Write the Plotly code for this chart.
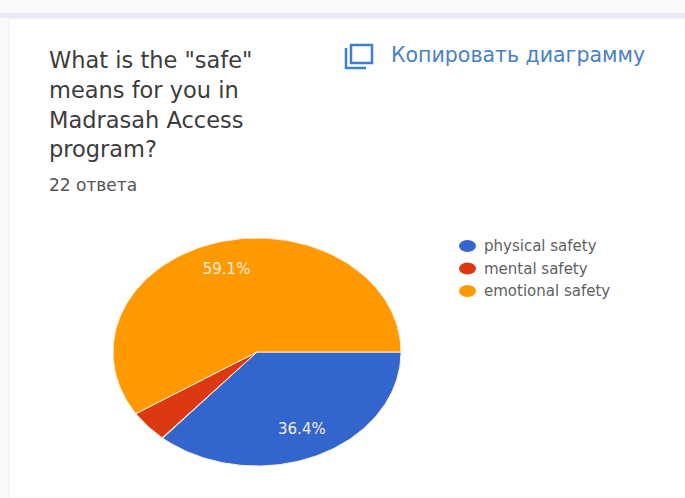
import numpy as np
import plotly.graph_objects as go

categories = ["physical safety", "mental safety", "emotional safety"]
answers = [8, 1, 13]
slice_colors = ["#3366cc", "#dc3912", "#ff9900"]
title_lines = ['What is the "safe"', "means for you in", "Madrasah Access", "program?"]
count_label = "22 ответа"
copy_label = "Копировать диаграмму"

W, H = 685, 498
fx = lambda px: px / W
fy = lambda px: 1 - px / H

# The source picture is stretched, so the pie is an ellipse: unit-circle wedges on
# axes whose ranges give 144 px per unit across and 114 px per unit down.
CX, CY, RX, RY = 257, 352, 144, 114
x_range = [-CX / RX, (W - CX) / RX]
y_range = [-(H - CY) / RY, CY / RY]

fig = go.Figure()
total = sum(answers)
start = 90.0
for name, value, color in zip(categories, answers, slice_colors):
    sweep = value / total * 360
    t = np.radians(np.linspace(start, start + sweep, 120))
    fig.add_trace(go.Scatter(
        x=np.r_[0, np.sin(t), 0], y=np.r_[0, np.cos(t), 0],
        mode="lines", fill="toself", fillcolor=color, name=name,
        line=dict(color="#fdeedd", width=1), hoverinfo="name", showlegend=False,
    ))
    if value / total > 0.1:
        mid = np.radians(start + sweep / 2)
        fig.add_trace(go.Scatter(
            x=[0.75 * np.sin(mid)], y=[0.75 * np.cos(mid)], mode="text",
            text=[f"{value / total * 100:.1f}%"], hoverinfo="skip", showlegend=False,
            textfont=dict(family="DejaVu Sans", size=15, color="#f6efe4"),
        ))
    start += sweep

shapes = [
    dict(type="rect", xref="paper", yref="paper", x0=0, x1=1, y0=fy(18), y1=fy(13),
         fillcolor="#e9e8f6", line_width=0, layer="below"),
    dict(type="rect", xref="paper", yref="paper", x0=fx(9), x1=1, y0=0, y1=fy(19),
         fillcolor="#ffffff", line=dict(color="#f1f1f1", width=1), layer="below"),
    dict(type="rect", xref="paper", yref="paper", x0=fx(351), x1=fx(372), y0=fy(63), y1=fy(45),
         line=dict(color="#3f7fd0", width=2.5)),
    dict(type="path", xref="paper", yref="paper",
         path=f"M {fx(346)} {fy(48)} L {fx(346)} {fy(68)} L {fx(366)} {fy(68)}",
         line=dict(color="#3f7fd0", width=2.5)),
]
ann = []
def note(px, py, text, family, size, color, anchor="left"):
    ann.append(dict(x=fx(px), y=fy(py), text=text, xanchor=anchor, yanchor="middle", showarrow=False,
                    xref="paper", yref="paper", font=dict(family=family, size=size, color=color)))

for i, line in enumerate(title_lines):
    note(47, 59.5 + i * 30, line, "DejaVu Sans", 22.5, "#3c3c3c")
note(47, 185, count_label, "DejaVu Sans", 17, "#555555")
note(389, 55, copy_label, "DejaVu Sans", 20.5, "#4a80c8")

for i, (name, color) in enumerate(zip(categories, slice_colors)):
    ly = 246 + i * 22.5
    shapes.append(dict(type="circle", xref="paper", yref="paper", x0=fx(459), x1=fx(476),
                       y0=fy(ly + 6), y1=fy(ly - 6), fillcolor=color, line_width=0))
    note(482, ly, name, "DejaVu Sans", 15, "#5f5f5f")

fig.update_layout(
    width=W, height=H, margin=dict(l=0, r=0, t=0, b=0),
    paper_bgcolor="#fafafa", plot_bgcolor="rgba(0,0,0,0)",
    xaxis=dict(visible=False, range=x_range, fixedrange=True),
    yaxis=dict(visible=False, range=y_range, fixedrange=True),
    shapes=shapes, annotations=ann, showlegend=False,
)
fig.write_html("out.html", post_script="document.body.style.margin='0';",
               config=dict(displayModeBar=False))
